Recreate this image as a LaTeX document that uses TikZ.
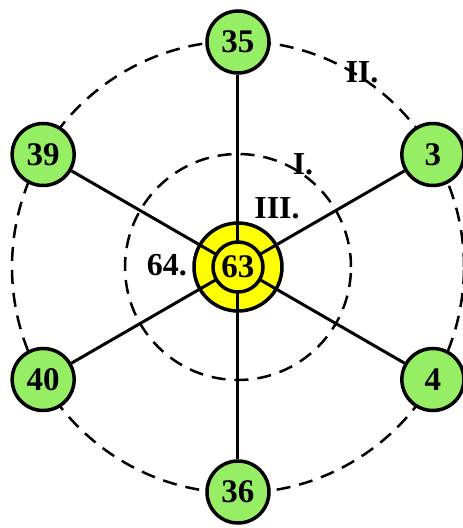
\documentclass[tikz,border=0pt]{standalone}
\usepackage{fontspec}
\setmainfont{Liberation Serif}
\usetikzlibrary{positioning}
\definecolor{cgreen}{HTML}{96EE64}
\definecolor{cyellow}{HTML}{FFFF00}
\tikzset{
  every picture/.style={line width=3pt},
  ring/.style={draw=black, dash pattern=on 14pt off 9pt, line width=2.5pt},
  leaf/.style={circle, draw=black, fill=cgreen, line width=3.5pt, minimum size=62pt, inner sep=0pt, font=\fontsize{33}{36}\selectfont\bfseries},
  hub/.style={circle, draw=black, fill=cyellow, line width=3.5pt, minimum size=#1, inner sep=0pt},
  spoke/.style={draw=black, line width=3pt},
  tag/.style={font=\fontsize{32}{36}\selectfont\bfseries, inner sep=0pt},
}

\begin{document}
\begin{tikzpicture}[x=1pt, y=1pt]
  \useasboundingbox (-238,-261) rectangle (225,267);
  % the two dashed rings
  \draw[ring] (0,0) circle (226);
  \draw[ring] (0,0) circle (113);
  % outer nodes
  \foreach \a/\t in {90/35, 30/3, 330/4, 270/36, 210/40, 150/39}{
    \node[leaf] (n\t) at (\a:225) {\t};
  }
  % centre
  \node[hub=88pt] (hubout) at (0,0) {};
  \foreach \t in {35,3,4,36,40,39}{
    \draw[spoke] (hubout.center) -- (n\t);
  }
  \node[hub=50pt, font=\fontsize{33}{36}\selectfont\bfseries] (hubin) at (0,0) {63};
  % ring labels
  \node[tag] (lI) at (65,103) {I.};
  \node[tag] (lII) at (124,195) {II.};
  \node[tag] (lIII) at (39,59) {III.};
  \node[tag] (l64) at (-71,2) {64.};
\end{tikzpicture}
\end{document}
